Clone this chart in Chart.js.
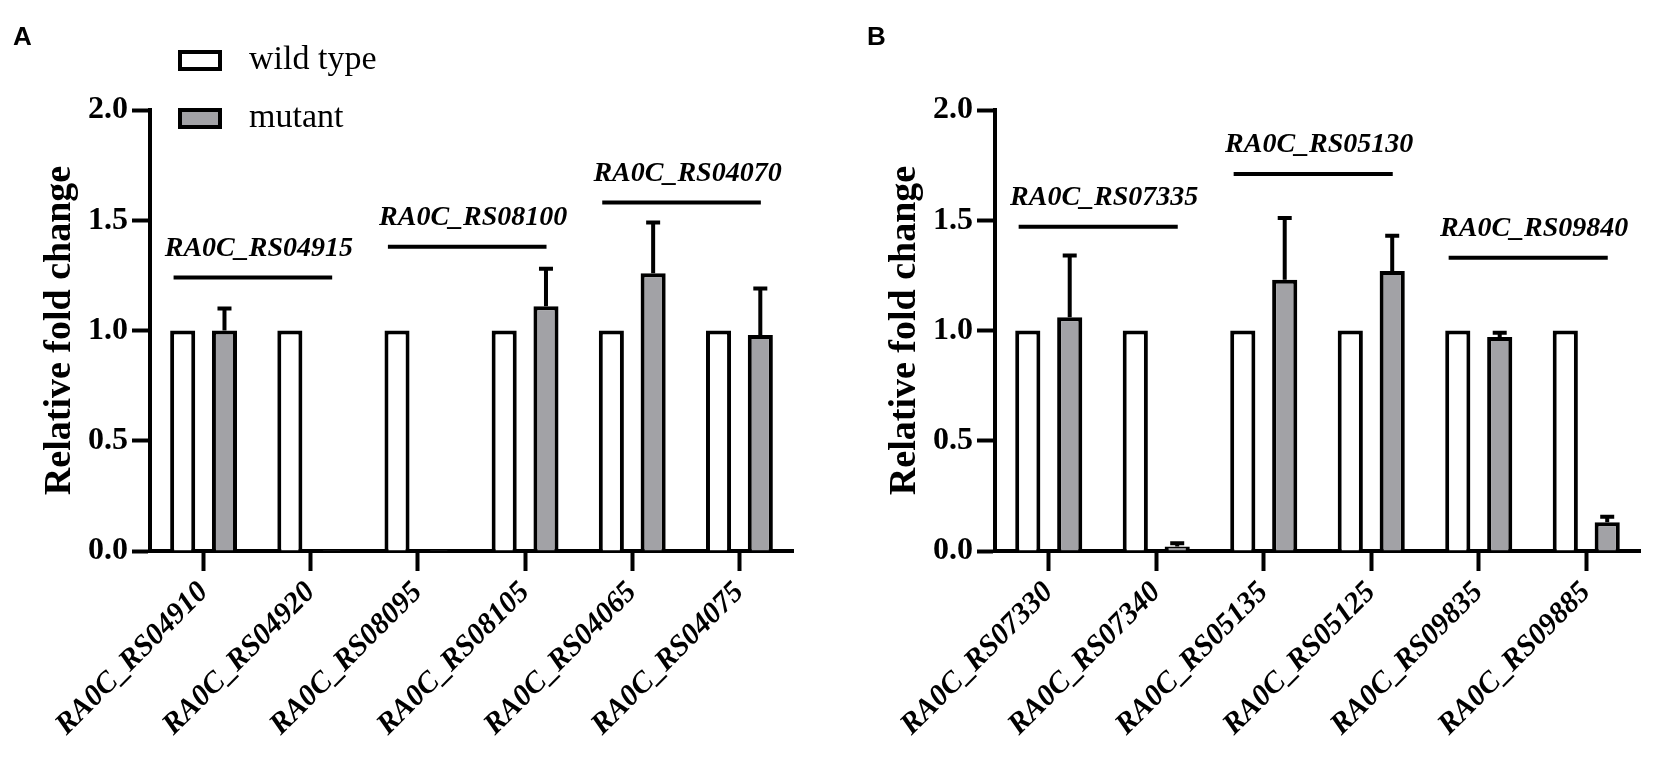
<!DOCTYPE html>
<html>
<head>
<meta charset="utf-8">
<script src="https://cdn.jsdelivr.net/npm/chart.js@4.4.0/dist/chart.umd.min.js"></script>
<style>
  html, body { margin: 0; padding: 0; background: #fff; }
  #page { position: relative; width: 1654px; height: 767px; background: #fff; }
  .panel { position: absolute; top: 0; width: 827px; height: 767px; }
</style>
</head>
<body>
<div id="page">
  <div class="panel" style="left:0"><canvas id="chartA"></canvas></div>
  <div class="panel" style="left:827px"><canvas id="chartB"></canvas></div>
</div>
<script>
// パネルA のデータ
const genesA = ['RA0C_RS04910', 'RA0C_RS04920', 'RA0C_RS08095', 'RA0C_RS08105', 'RA0C_RS04065', 'RA0C_RS04075'];
const wildTypeA = [1, 1, 1, 1, 1, 1];
const mutantA = [1.0, 0.005, 0.005, 1.11, 1.26, 0.98];
const mutantErrA = [0.10, 0, 0, 0.17, 0.23, 0.21];
const groupNamesA = ['RA0C_RS04915', 'RA0C_RS08100', 'RA0C_RS04070'];
const groupStartA = [0, 2, 4];
const groupLevelA = [1.24, 1.38, 1.58];

// パネルB のデータ
const genesB = ['RA0C_RS07330', 'RA0C_RS07340', 'RA0C_RS05135', 'RA0C_RS05125', 'RA0C_RS09835', 'RA0C_RS09885'];
const wildTypeB = [1, 1, 1, 1, 1, 1];
const mutantB = [1.06, 0.02, 1.23, 1.27, 0.97, 0.13];
const mutantErrB = [0.28, 0.015, 0.28, 0.16, 0.02, 0.025];
const groupNamesB = ['RA0C_RS07335', 'RA0C_RS05130', 'RA0C_RS09840'];
const groupStartB = [0, 2, 4];
const groupLevelB = [1.47, 1.71, 1.33];

const yTicks = [0, 0.5, 1.0, 1.5, 2.0];
const seriesNames = ['wild type', 'mutant'];

const SERIF = "'Liberation Serif', 'Times New Roman', serif";

// エラーバー（上側のみ）
const errorBarPlugin = {
    id: 'errorBars',
    afterDatasetsDraw(chart, args, opts) {
        const ctx = chart.ctx;
        const y = chart.scales.y;
        const meta = chart.getDatasetMeta(1);
        const vals = chart.data.datasets[1].data;
        ctx.save();
        ctx.strokeStyle = '#000';
        ctx.lineWidth = 4;
        meta.data.forEach((bar, i) => {
            const e = opts.errors[i];
            if (!e) return;
            const top = y.getPixelForValue(vals[i] + e);
            ctx.beginPath();
            ctx.moveTo(bar.x, bar.y);
            ctx.lineTo(bar.x, top);
            ctx.moveTo(bar.x - 7, top);
            ctx.lineTo(bar.x + 7, top);
            ctx.stroke();
        });
        ctx.restore();
    }
};

// 遺伝子グループのラベルと線、パネル記号、凡例
const annotatePlugin = {
    id: 'annotate',
    afterDraw(chart, args, opts) {
        const ctx = chart.ctx;
        const x = chart.scales.x;
        const y = chart.scales.y;
        ctx.save();
        ctx.fillStyle = '#000';
        ctx.strokeStyle = '#000';

        opts.names.forEach((name, k) => {
            const s = opts.start[k];
            const x1 = x.getPixelForValue(s - 0.28);
            const x2 = x.getPixelForValue(s + 1.2);
            const ly = y.getPixelForValue(opts.level[k]);
            ctx.lineWidth = 4;
            ctx.beginPath();
            ctx.moveTo(x1, ly);
            ctx.lineTo(x2, ly);
            ctx.stroke();
            ctx.font = 'italic bold 28px ' + SERIF;
            ctx.textAlign = 'center';
            ctx.textBaseline = 'alphabetic';
            ctx.fillText(name, (x1 + x2) / 2 + 6, ly - 22);
        });

        // パネル記号
        ctx.font = 'bold 26px "Liberation Sans", Arial, sans-serif';
        ctx.textAlign = 'left';
        ctx.textBaseline = 'alphabetic';
        ctx.fillText(opts.letter, opts.letterX, 45);

        // 凡例
        if (opts.legend) {
            chart.data.datasets.forEach((ds, i) => {
                const top = 50 + i * 58;
                ctx.fillStyle = ds.backgroundColor;
                ctx.fillRect(180, top + 2, 40, 17);
                ctx.lineWidth = 4;
                ctx.strokeStyle = '#000';
                ctx.strokeRect(180, top + 2, 40, 17);
                ctx.fillStyle = '#000';
                ctx.font = '34px ' + SERIF;
                ctx.textBaseline = 'middle';
                ctx.fillText(ds.label, 249, top + 10);
            });
        }
        ctx.restore();
    }
};

function createChart(canvasId, p) {
    const ctx = document.getElementById(canvasId);
    if (!ctx) return;

    new Chart(ctx, {
        type: 'bar',
        data: {
            labels: p.genes,
            datasets: [{
                label: seriesNames[0],
                data: p.wt,
                backgroundColor: '#ffffff',
                borderColor: '#000000',
                borderWidth: 4
            }, {
                label: seriesNames[1],
                data: p.mt,
                backgroundColor: '#a2a2a6',
                borderColor: '#000000',
                borderWidth: 4
            }]
        },
        options: {
            responsive: true,
            maintainAspectRatio: false,
            animation: false,
            layout: {
                padding: { top: 110, right: p.rightPad, left: 0, bottom: 0 }
            },
            datasets: {
                bar: {
                    categoryPercentage: 0.78,
                    barPercentage: 0.6
                }
            },
            plugins: {
                legend: { display: false },
                title: { display: false },
                tooltip: { enabled: false },
                errorBars: { errors: p.err },
                annotate: {
                    names: p.groupNames,
                    start: p.groupStart,
                    level: p.groupLevel,
                    letter: p.letter,
                    letterX: p.letterX,
                    legend: p.legend
                }
            },
            scales: {
                x: {
                    offset: true,
                    grid: {
                        display: true,
                        offset: false,
                        drawOnChartArea: false,
                        drawTicks: true,
                        tickLength: 20,
                        tickWidth: 4,
                        tickColor: '#000'
                    },
                    border: { display: true, color: '#000', width: 4 },
                    ticks: {
                        autoSkip: false,
                        minRotation: 45,
                        maxRotation: 45,
                        padding: 4,
                        color: '#000',
                        font: { family: SERIF, size: 30, weight: 'bold', style: 'italic' }
                    },
                    afterFit(scale) { scale.height = 216; }
                },
                y: {
                    min: 0,
                    max: 2,
                    afterBuildTicks(scale) {
                        scale.ticks = yTicks.map(v => ({ value: v }));
                    },
                    grid: {
                        drawOnChartArea: false,
                        drawTicks: true,
                        tickLength: 18,
                        tickWidth: 4,
                        tickColor: '#000'
                    },
                    border: { display: true, color: '#000', width: 4 },
                    ticks: {
                        padding: 4,
                        color: '#000',
                        font: { family: SERIF, size: 32, weight: 'bold' },
                        callback: v => Number(v).toFixed(1)
                    },
                    title: {
                        display: true,
                        text: 'Relative fold change',
                        color: '#000',
                        font: { family: SERIF, size: 38, weight: 'bold' },
                        padding: { top: p.titlePad, bottom: 0 }
                    },
                    afterFit(scale) { scale.width = p.axisW; }
                }
            }
        },
        plugins: [errorBarPlugin, annotatePlugin]
    });
}

document.addEventListener('DOMContentLoaded', function() {
    createChart('chartA', {
        genes: genesA, wt: wildTypeA, mt: mutantA, err: mutantErrA,
        groupNames: groupNamesA, groupStart: groupStartA, groupLevel: groupLevelA,
        letter: 'A', letterX: 13, legend: true,
        axisW: 150, rightPad: 34, titlePad: 37
    });
    createChart('chartB', {
        genes: genesB, wt: wildTypeB, mt: mutantB, err: mutantErrB,
        groupNames: groupNamesB, groupStart: groupStartB, groupLevel: groupLevelB,
        letter: 'B', letterX: 40, legend: false,
        axisW: 168, rightPad: 14, titlePad: 55
    });
});
</script>
</body>
</html>
